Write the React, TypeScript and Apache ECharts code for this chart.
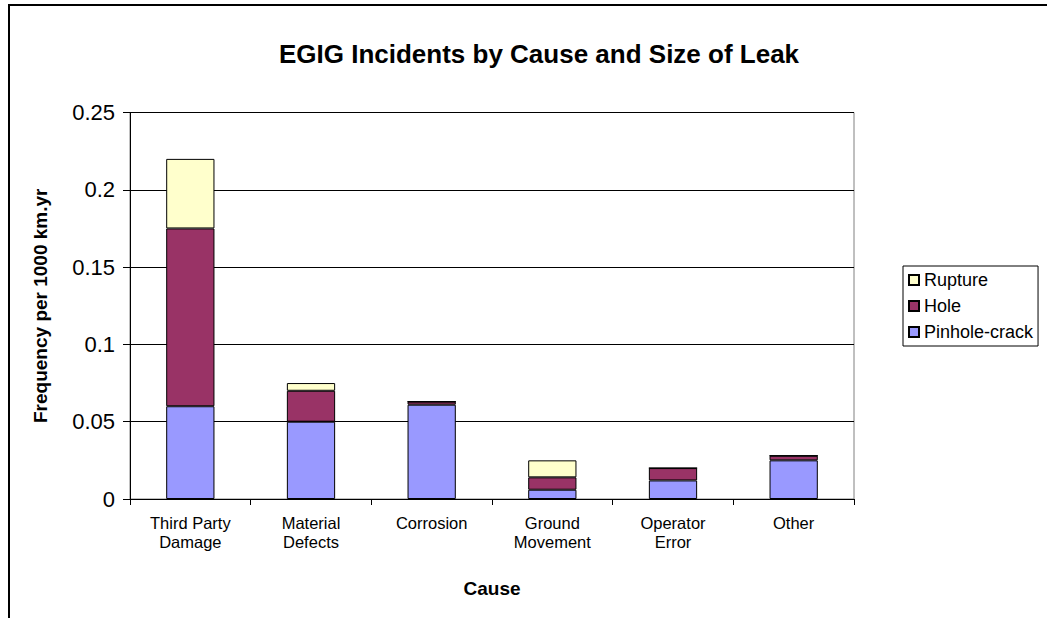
import React, { useEffect, useRef } from "react";
import * as echarts from "echarts";

const categories = [
  "Third Party\nDamage",
  "Material\nDefects",
  "Corrosion",
  "Ground\nMovement",
  "Operator\nError",
  "Other",
];
const pinholeCrack = [0.06, 0.05, 0.061, 0.006, 0.012, 0.025];
const hole = [0.115, 0.02, 0.002, 0.008, 0.008, 0.003];
const rupture = [0.045, 0.005, 0, 0.011, 0, 0];
const yTicks = { min: 0, max: 0.25, interval: 0.05 };

const FONT = "'Liberation Sans', Arial, sans-serif";

export default function App() {
  const ref = useRef<HTMLDivElement>(null);
  useEffect(() => {
    if (!ref.current) return;
    const chart = echarts.init(ref.current, undefined, { renderer: "svg" });
    const barStyle = (color: string) => ({
      color,
      borderColor: "#000",
      borderWidth: 1,
    });
    chart.setOption({
      animation: false,
      backgroundColor: "#fff",
      textStyle: { fontFamily: FONT },
      title: {
        text: "EGIG Incidents by Cause and Size of Leak",
        left: 534,
        top: 36,
        textAlign: "center",
        textStyle: { fontFamily: FONT, fontSize: 26, fontWeight: "bold", color: "#000" },
      },
      legend: {
        orient: "vertical",
        left: 903,
        top: 266,
        data: ["Rupture", "Hole", "Pinhole-crack"],
        icon: "rect",
        itemWidth: 10,
        itemHeight: 10,
        itemGap: 8,
        padding: [5, 5, 5, 5],
        borderColor: "#000",
        borderWidth: 1,
        borderRadius: 0,
        textStyle: { fontFamily: FONT, fontSize: 18, lineHeight: 18, color: "#000" },
      },
      graphic: [
        { type: "line", shape: { x1: 8, y1: 5, x2: 1047, y2: 5 }, style: { stroke: "#000", lineWidth: 2 } },
        { type: "line", shape: { x1: 9, y1: 4, x2: 9, y2: 618 }, style: { stroke: "#000", lineWidth: 2 } },
      ],
      grid: {
        left: 130,
        right: 193,
        top: 112.5,
        bottom: 119,
        show: true,
        borderColor: "#808080",
        borderWidth: 1,
        backgroundColor: "transparent",
      },
      xAxis: {
        type: "category",
        data: categories,
        name: "Cause",
        nameLocation: "middle",
        nameGap: 80,
        nameTextStyle: { fontFamily: FONT, fontSize: 19, fontWeight: "bold", color: "#000" },
        axisLine: { lineStyle: { color: "#000", width: 1 } },
        axisTick: { show: true, length: 6, lineStyle: { color: "#000" } },
        axisLabel: {
          fontFamily: FONT,
          fontSize: 16.5,
          lineHeight: 19,
          color: "#000",
          margin: 14,
          interval: 0,
        },
        splitLine: { show: false },
      },
      yAxis: {
        type: "value",
        min: yTicks.min,
        max: yTicks.max,
        interval: yTicks.interval,
        name: "Frequency per 1000 km.yr",
        nameLocation: "middle",
        nameGap: 80,
        nameTextStyle: { fontFamily: FONT, fontSize: 19, fontWeight: "bold", color: "#000" },
        axisLine: { show: true, lineStyle: { color: "#000", width: 1 } },
        axisTick: { show: true, length: 7, lineStyle: { color: "#000" } },
        axisLabel: { fontFamily: FONT, fontSize: 22, color: "#000", margin: 15 },
        splitLine: { show: true, lineStyle: { color: "#000", width: 1 } },
      },
      series: [
        {
          name: "Pinhole-crack",
          type: "bar",
          stack: "total",
          data: pinholeCrack,
          barWidth: "40%",
          itemStyle: barStyle("#9999FF"),
        },
        {
          name: "Hole",
          type: "bar",
          stack: "total",
          data: hole,
          barWidth: "40%",
          itemStyle: barStyle("#993366"),
        },
        {
          name: "Rupture",
          type: "bar",
          stack: "total",
          data: rupture,
          barWidth: "40%",
          itemStyle: barStyle("#FFFFCC"),
        },
      ],
    });
    return () => chart.dispose();
  }, []);
  return (
    <div
      ref={ref}
      style={{ position: "fixed", left: 0, top: 0, width: 1047, height: 618 }}
    />
  );
}
